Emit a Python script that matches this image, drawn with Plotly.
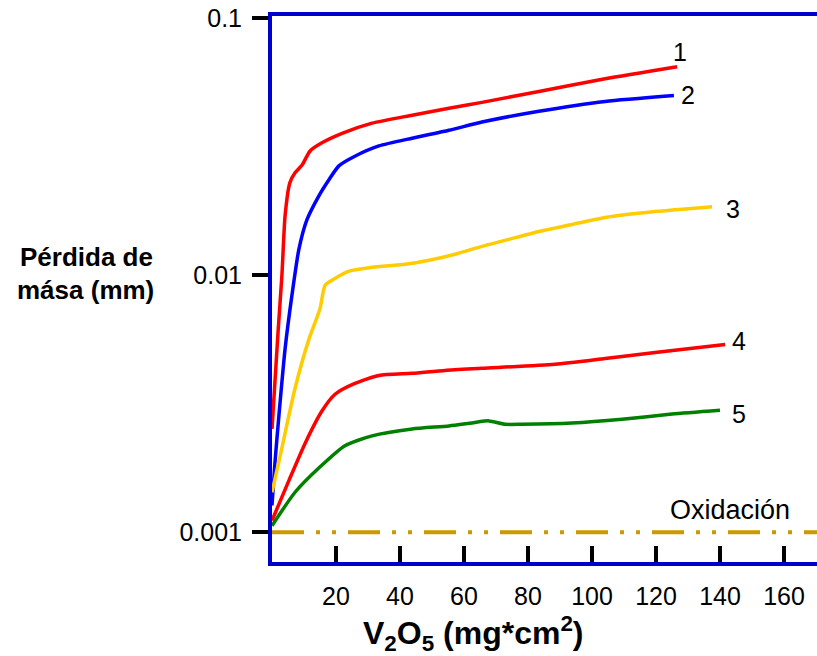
import math
import plotly.graph_objects as go

# ---- data ----
x1 = [0, 1.9, 3.1, 4.1, 5.6, 7.2, 9.4, 11.9, 15.6, 21.9, 31.3, 43.8, 55.3, 65.6, 83.4, 104.1, 126.6]
y1 = [0.00252, 0.00603, 0.0100, 0.0171, 0.0229, 0.0250, 0.0268, 0.0304, 0.0327, 0.0356, 0.0390, 0.0419, 0.0446, 0.0470, 0.0518, 0.0581, 0.0647]

x2 = [0, 0.9, 2.2, 4.1, 6.25, 8.4, 10.9, 14.7, 17.8, 20.9, 25.9, 33.4, 43.8, 55.3, 65.6, 83.4, 104.1, 125.6]
y2 = [0.00127, 0.00185, 0.00288, 0.00518, 0.00838, 0.0126, 0.0164, 0.0204, 0.0235, 0.0266, 0.0290, 0.0318, 0.0341, 0.0366, 0.0394, 0.0434, 0.0474, 0.0500]

x3 = [0, 3.1, 7.2, 11.6, 15.0, 16.6, 19.4, 24.1, 31.3, 41.6, 49.1, 57.2, 65.6, 72.8, 83.4, 93.75, 104.1, 119.7, 137.5]
y3 = [0.00143, 0.00213, 0.00363, 0.00566, 0.00740, 0.00914, 0.00966, 0.01036, 0.01074, 0.01102, 0.01143, 0.01205, 0.01294, 0.01365, 0.01479, 0.01574, 0.01675, 0.01767, 0.01846]

x4 = [0, 5.3, 10.3, 15.6, 19.7, 25.9, 33.4, 43.8, 54.1, 65.6, 88.4, 104.1, 119.7, 141.6]
y4 = [0.00111, 0.00159, 0.00221, 0.00296, 0.00344, 0.00379, 0.00407, 0.00415, 0.00426, 0.00434, 0.00450, 0.00474, 0.00500, 0.00537]

x5 = [0, 7.2, 14.7, 22.8, 31.3, 43.8, 55.3, 62.5, 67.8, 72.8, 78.1, 93.75, 109.4, 125, 140]
y5 = [0.00106, 0.00143, 0.00178, 0.00217, 0.00237, 0.00252, 0.00259, 0.00266, 0.00271, 0.00263, 0.00263, 0.00266, 0.00275, 0.00288, 0.00298]

oxid_x = [0, 180]
oxid_y = [0.001, 0.001]
oxid_label = "Oxidación"

series_labels = ["1", "2", "3", "4", "5"]
x_tickvals = [20, 40, 60, 80, 100, 120, 140, 160]
y_tickvals = [0.001, 0.01, 0.1]
y_ticktext = ["0.001", "0.01", "0.1"]

# ---- figure ----
FONT = "Liberation Sans, Arial, sans-serif"
AXIS_BLUE = "#0000CC"
colors = ["#FF0000", "#0000FF", "#FFCC00", "#FF0000", "#008000"]
series = [(x1, y1), (x2, y2), (x3, y3), (x4, y4), (x5, y5)]
label_shift = [(3, 15), (14, 0), (21, -2), (14, 4), (19, -4)]

fig = go.Figure()
fig.add_trace(go.Scatter(x=oxid_x, y=oxid_y, mode="lines",
                         line=dict(color="#CC9900", width=4,
                                   dash="32px,12px,4px,12px,4px,12px"),
                         hoverinfo="skip", showlegend=False))
for (xs, ys), c in zip(series, colors):
    fig.add_trace(go.Scatter(x=xs, y=ys, mode="lines",
                             line=dict(color=c, width=3.5, shape="spline", smoothing=0.6),
                             showlegend=False))

for (xs, ys), lab, (dx, dy) in zip(series, series_labels, label_shift):
    fig.add_annotation(x=xs[-1], y=math.log10(ys[-1]),
                       text=lab, showarrow=False, xanchor="center", yanchor="middle",
                       xshift=dx, yshift=dy, font=dict(size=25, color="black", family=FONT))

fig.add_annotation(x=143.1, y=math.log10(oxid_y[0]), text=oxid_label, showarrow=False,
                   xanchor="center", yanchor="middle", yshift=22,
                   font=dict(size=27, color="black", family=FONT))

# plot area: left 272px, width 570px (runs past the 817px window edge)
PW = 570
fig.add_annotation(xref="paper", yref="paper", x=(86 - 272) / PW, y=0.5586,
                   text="<b>Pérdida de</b>", showarrow=False,
                   xanchor="center", yanchor="middle",
                   font=dict(size=26, color="black", family=FONT))
fig.add_annotation(xref="paper", yref="paper", x=(85 - 272) / PW, y=0.498,
                   text="<b>mása (mm)</b>", showarrow=False,
                   xanchor="center", yanchor="middle",
                   font=dict(size=26, color="black", family=FONT))

fig.add_annotation(xref="paper", yref="paper", x=(473 - 272) / PW, y=-0.131,
                   text="<b>V<sub>2</sub>O<sub>5</sub> (mg*cm<sup>2</sup>)</b>", showarrow=False,
                   xanchor="center", yanchor="middle",
                   font=dict(size=32, color="black", family=FONT))

fig.update_xaxes(range=[0, PW / 3.2], showgrid=False, zeroline=False,
                 showline=True, linecolor=AXIS_BLUE, linewidth=4, mirror=True,
                 ticks="inside", ticklen=16, tickwidth=4, tickcolor="black",
                 tickvals=x_tickvals, ticklabelstandoff=9, ticklabeloverflow="allow",
                 tickfont=dict(size=25, color="black", family=FONT))
fig.update_yaxes(type="log", range=[-3.116, -0.992], showgrid=False, zeroline=False,
                 showline=True, linecolor=AXIS_BLUE, linewidth=4, mirror=False,
                 ticks="outside", ticklen=16, tickwidth=4, tickcolor="black",
                 tickvals=y_tickvals, ticktext=y_ticktext, ticklabelstandoff=5,
                 ticklabeloverflow="allow",
                 tickfont=dict(size=25, color="black", family=FONT))

fig.update_layout(width=272 + PW, height=656, margin=dict(l=272, r=0, t=16, b=94),
                  plot_bgcolor="white", paper_bgcolor="white")

# remove the default 8px page margin so the figure fills the window exactly
fig.write_html("out.html", config={"displayModeBar": False},
               post_script="document.documentElement.style.overflow='hidden';"
                           "document.body.style.margin='0';document.body.style.overflow='hidden';")
